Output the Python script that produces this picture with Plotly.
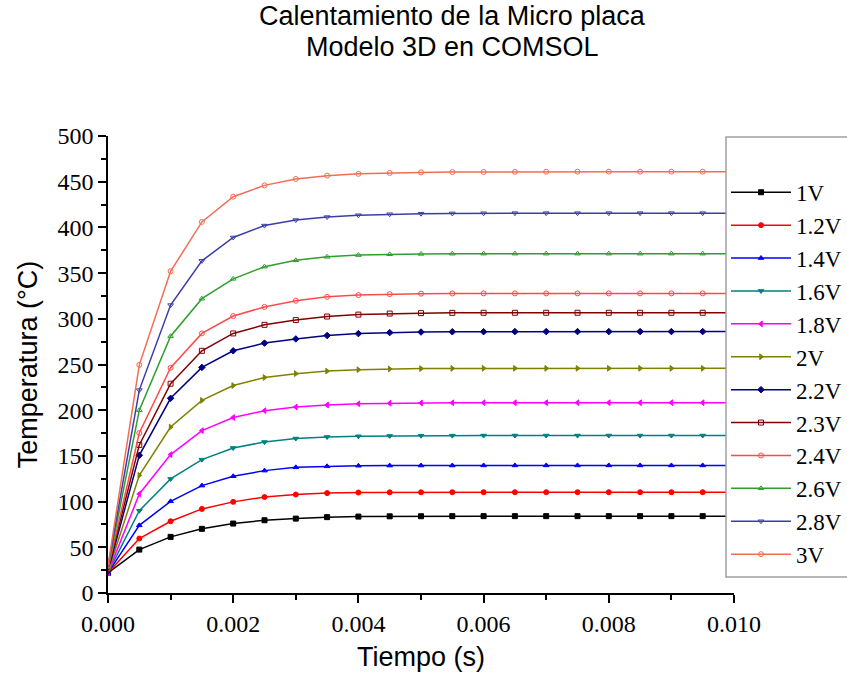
import plotly.graph_objects as go

# time points (s)
tiempo = [0, 0.0005, 0.001, 0.0015, 0.002, 0.0025, 0.003, 0.0035, 0.004, 0.0045,
          0.005, 0.0055, 0.006, 0.0065, 0.007, 0.0075, 0.008, 0.0085, 0.009, 0.0095, 0.01]

labels = ["1V", "1.2V", "1.4V", "1.6V", "1.8V", "2V", "2.2V", "2.3V", "2.4V", "2.6V", "2.8V", "3V"]

t_1V  = [22, 47.5, 61.4, 70.2, 76.0, 79.6, 81.4, 83.0, 83.6, 83.9, 84.0, 84.1, 84.1, 84.1, 84.1, 84.1, 84.1, 84.1, 84.1, 84.1, 84.1]
t_12V = [22, 59.6, 78.5, 92.0, 99.7, 105.0, 107.7, 109.3, 109.9, 110.1, 110.2, 110.3, 110.3, 110.3, 110.3, 110.3, 110.3, 110.3, 110.3, 110.3, 110.3]
t_14V = [22, 74.0, 100.3, 117.5, 127.7, 133.9, 137.5, 138.6, 139.2, 139.4, 139.5, 139.5, 139.6, 139.6, 139.6, 139.6, 139.6, 139.6, 139.6, 139.6, 139.6]
t_16V = [22, 90.0, 124.8, 145.9, 158.7, 165.2, 169.0, 170.7, 171.5, 171.9, 172.1, 172.2, 172.3, 172.3, 172.3, 172.3, 172.3, 172.3, 172.3, 172.3, 172.3]
t_18V = [22, 108.4, 151.4, 177.6, 192.0, 199.5, 203.5, 205.7, 207.0, 207.6, 207.9, 208.1, 208.2, 208.2, 208.2, 208.2, 208.2, 208.2, 208.2, 208.2, 208.2]
t_2V  = [23, 128.7, 181.6, 210.7, 227.0, 235.8, 240.0, 242.8, 244.3, 245.1, 245.5, 245.7, 245.8, 245.8, 245.8, 245.8, 245.8, 245.8, 245.8, 245.8, 245.8]
t_22V = [24, 150.6, 213.0, 246.8, 265.0, 273.4, 278.0, 281.7, 283.8, 284.9, 285.5, 285.8, 285.9, 286.0, 286.0, 286.0, 286.0, 286.0, 286.0, 286.0, 286.0]
t_23V = [26, 162.0, 229.0, 265.0, 284.0, 293.4, 298.6, 302.5, 304.6, 305.7, 306.2, 306.5, 306.6, 306.6, 306.6, 306.6, 306.6, 306.6, 306.6, 306.6, 306.6]
t_24V = [27, 175.0, 246.4, 284.0, 303.0, 313.0, 319.7, 324.0, 326.0, 327.0, 327.5, 327.7, 327.8, 327.8, 327.8, 327.8, 327.8, 327.8, 327.8, 327.8, 327.8]
t_26V = [28, 200.0, 281.0, 322.0, 343.7, 357.0, 364.0, 367.8, 369.7, 370.6, 371.0, 371.2, 371.3, 371.3, 371.3, 371.3, 371.3, 371.3, 371.3, 371.3, 371.3]
t_28V = [29, 222.0, 315.0, 363.4, 389.0, 402.0, 408.0, 411.3, 413.3, 414.4, 415.0, 415.3, 415.5, 415.6, 415.6, 415.6, 415.6, 415.6, 415.6, 415.6, 415.6]
t_3V  = [30, 249.6, 352.0, 406.0, 433.6, 446.0, 453.0, 456.6, 458.6, 459.6, 460.2, 460.5, 460.7, 460.8, 460.9, 461.0, 461.0, 461.0, 461.0, 461.0, 461.0]

series = [t_1V, t_12V, t_14V, t_16V, t_18V, t_2V, t_22V, t_23V, t_24V, t_26V, t_28V, t_3V]

colors = ["#000000", "#FF0000", "#0000FF", "#008080", "#FF00FF", "#808000",
          "#000080", "#800000", "#FF4A4A", "#2E9E2E", "#3C3CA8", "#F26D55"]
symbols = ["square", "circle", "triangle-up", "triangle-down", "triangle-left", "triangle-right",
           "diamond", "square-open", "circle-open", "triangle-up-open", "triangle-down-open", "circle-open"]

fig = go.Figure()
for i, (name, ys) in enumerate(zip(labels, series)):
    fig.add_trace(go.Scatter(
        x=tiempo, y=ys, name=name, mode="lines+markers",
        line=dict(color=colors[i], width=1.5),
        marker=dict(symbol=symbols[i], size=5, color=colors[i],
                    line=dict(color=colors[i], width=1)),
        legendgroup=name,
    ))

serif = "Liberation Serif, Times New Roman, serif"
sans = "Liberation Sans, Arial, sans-serif"

L, R, T, B = 108, 113, 136, 86
W, H = 847, 679
plot_w = W - L - R
plot_h = H - T - B

def px_to_paper(px, py):
    return (px - L) / plot_w, (H - B - py) / plot_h

fig.update_layout(
    width=W, height=H,
    paper_bgcolor="white", plot_bgcolor="white",
    margin=dict(l=L, r=R, t=T, b=B, autoexpand=False),
    showlegend=True,
    legend=dict(
        x=px_to_paper(726, 0)[0], y=px_to_paper(0, 137)[1], xanchor="left", yanchor="top",
        bgcolor="rgba(0,0,0,0)", borderwidth=0,
        font=dict(family=serif, size=23, color="black"),
        tracegroupgap=0,
        title=dict(text=" ", font=dict(size=26)),
        itemwidth=60,
        maxheight=700,
    ),
    xaxis=dict(
        range=[0, 0.01], tickvals=[0, 0.002, 0.004, 0.006, 0.008, 0.010],
        ticktext=["0.000", "0.002", "0.004", "0.006", "0.008", "0.010"],
        showgrid=False, zeroline=False, showline=True, linecolor="black", linewidth=1.5,
        ticks="outside", ticklen=8, tickwidth=1.5, tickcolor="black",
        minor=dict(dtick=0.001, ticks="outside", ticklen=5, tickwidth=1.5, tickcolor="black", showgrid=False),
        tickfont=dict(family=serif, size=24, color="black"),
        title=dict(text="Tiempo (s)", font=dict(family=sans, size=27, color="black"), standoff=12),
    ),
    yaxis=dict(
        range=[0, 500], tickvals=[0, 50, 100, 150, 200, 250, 300, 350, 400, 450, 500],
        showgrid=False, zeroline=False, showline=True, linecolor="black", linewidth=1.5,
        ticks="outside", ticklen=8, tickwidth=1.5, tickcolor="black",
        minor=dict(dtick=25, ticks="outside", ticklen=5, tickwidth=1.5, tickcolor="black", showgrid=False),
        tickfont=dict(family=serif, size=24, color="black"),
        title=dict(text="Temperatura (°C)", font=dict(family=sans, size=27, color="black"), standoff=12),
    ),
)

# legend frame (extends beyond the right edge, as in the reference)
bx0, by0 = px_to_paper(726, 577)
bx1, by1 = px_to_paper(880, 137)
fig.add_shape(type="rect", xref="paper", yref="paper", x0=bx0, x1=bx1, y0=by0, y1=by1,
              fillcolor="white", line=dict(color="#A0A0A0", width=1.5), layer="above")

ax1, ay1 = px_to_paper(452, 16)
ax2, ay2 = px_to_paper(452, 47)
fig.add_annotation(text="Calentamiento de la Micro placa", x=ax1, y=ay1, xref="paper", yref="paper",
                   showarrow=False, xanchor="center", yanchor="middle",
                   font=dict(family=sans, size=27, color="black"))
fig.add_annotation(text="Modelo 3D en COMSOL", x=ax2, y=ay2, xref="paper", yref="paper",
                   showarrow=False, xanchor="center", yanchor="middle",
                   font=dict(family=sans, size=27, color="black"))

fig.write_html("out.html")
